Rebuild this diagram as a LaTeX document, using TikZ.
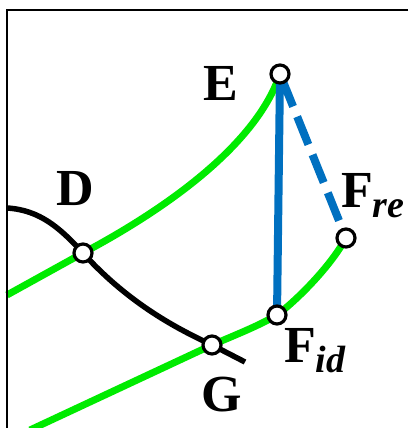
\documentclass[tikz,border=0pt]{standalone}
\usepackage{fontspec}
\setmainfont{Liberation Serif}
\usepackage{tikz}
\usetikzlibrary{backgrounds}
\definecolor{curvegreen}{RGB}{0, 235, 0}
\definecolor{lineblue}{RGB}{0, 112, 192}
\tikzset{
    pt/.style={circle, draw=black, fill=white, line width=3.2pt, minimum size=18pt, inner sep=0pt},
    lbl/.style={anchor=base, inner sep=0pt, font=\bfseries\fontsize{52}{52}\selectfont},
    greencurve/.style={curvegreen, line width=7pt},
    blackcurve/.style={black, line width=5.5pt},
    blueline/.style={lineblue, line width=8pt}
}
\newcommand{\sublbl}[1]{\raisebox{-10pt}{\fontsize{38}{38}\selectfont\bfseries\itshape #1}}

\begin{document}
\begin{tikzpicture}[x=1pt, y=-1pt]
    \useasboundingbox (0,0) rectangle (408,428);
    \draw[line width=2pt] (408,10) -- (7,10) -- (7,428);
    % points
    \node[pt] (E) at (280,74) {};
    \node[pt] (D) at (83,253) {};
    \node[pt] (G) at (212,345) {};
    \node[pt] (Fid) at (277,315) {};
    \node[pt] (Fre) at (346,238) {};
    % labels
    \node[lbl] (labE) at (221,100) {E};
    \node[lbl] (labD) at (75,205) {D};
    \node[lbl] (labG) at (222,411) {G};
    \node[lbl, anchor=base west] (labFre) at (341,207) {F\sublbl{re}};
    \node[lbl, anchor=base west] (labFid) at (284,362) {F\sublbl{id}};
    \begin{scope}[on background layer]
        \draw[greencurve] (7,295) -- (D.center) .. controls (160,212) and (255,148) .. (E.center);
        \draw[greencurve] (30,430) -- (G.center) .. controls (240,333) and (258,326) .. (Fid.center)
            .. controls (297,300) and (330,267) .. (Fre.center);
        \draw[blackcurve] (7,208) .. controls (40,210) and (60,228) .. (D.center)
            .. controls (130,305) and (180,330) .. (G.center) -- (245,362);
        \draw[blueline] (E.center) -- (Fid.center);
        \draw[blueline, dash pattern=on 30pt off 11pt, dash phase=36pt] (E.center) -- (Fre.center);
    \end{scope}
\end{tikzpicture}
\end{document}
